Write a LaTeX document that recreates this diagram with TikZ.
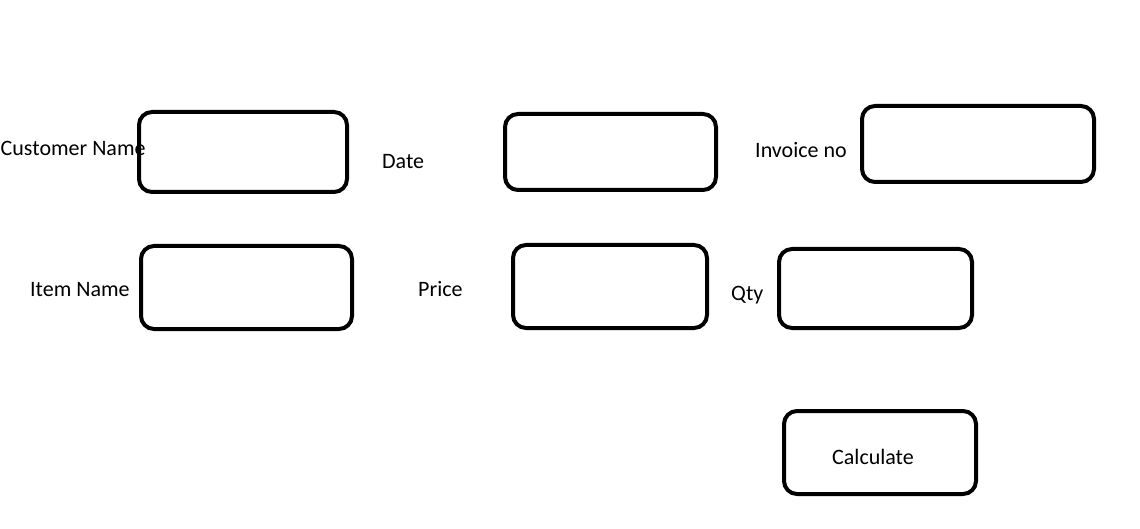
\documentclass[tikz,border=0pt]{standalone}
\usepackage{fontspec}
\setmainfont{Carlito}
\begin{document}
\begin{tikzpicture}[x=1pt,y=-1pt,
  field/.style={draw=black,line width=4pt,rounded corners=13pt},
  lbl/.style={anchor=base west,inner sep=0pt,font=\fontsize{22}{26}\selectfont}]
\useasboundingbox[fill=white] (0,0) rectangle (1140,529);
\node[lbl] (lcust) at (0.5,156) {Customer Name};
\node[lbl] (ldate) at (382,169) {Date};
\node[lbl] (linv) at (755,158) {Invoice no};
\node[lbl] (litem) at (30,297) {Item Name};
\node[lbl] (lprice) at (418,297) {Price};
\node[lbl] (lqty) at (731,300) {Qty};
\node[lbl] (lcalc) at (832,464) {Calculate};
\draw[field] (139,112) rectangle (347,192);
\draw[field] (505,114) rectangle (716,190);
\draw[field] (862,106) rectangle (1094,182);
\draw[field] (141,246) rectangle (352,329);
\draw[field] (513,245) rectangle (707,328);
\draw[field] (779,249) rectangle (972,328);
\draw[field] (784,411) rectangle (976,494);
\end{tikzpicture}
\end{document}
